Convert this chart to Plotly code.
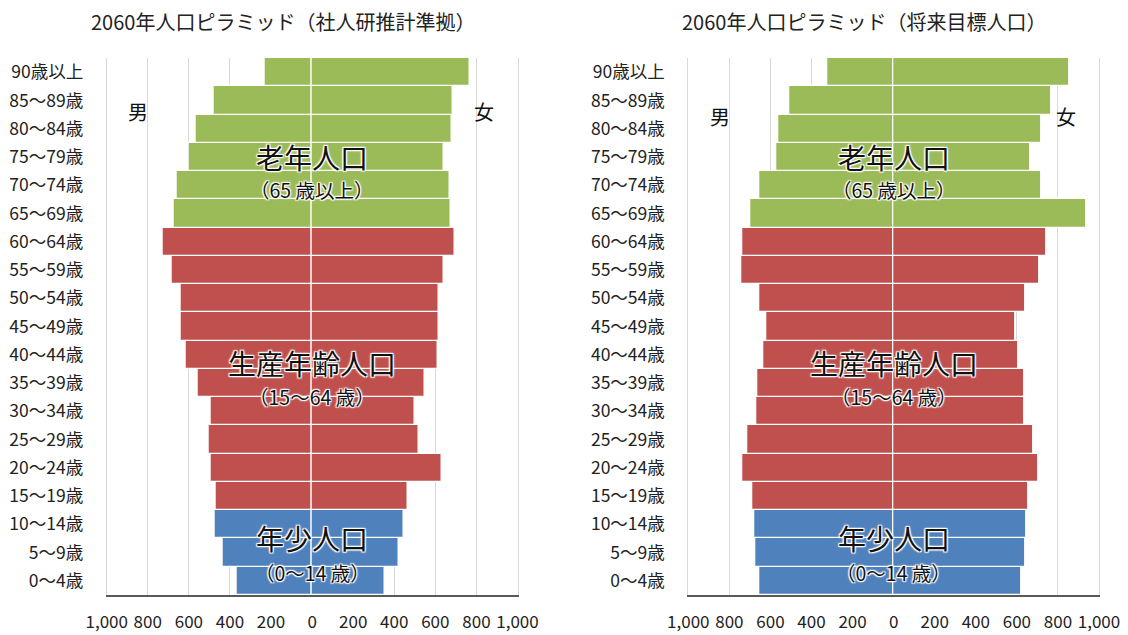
import plotly.graph_objects as go
from plotly.subplots import make_subplots

# age groups, bottom to top
ages = ['0～4歳', '5～9歳', '10～14歳', '15～19歳', '20～24歳', '25～29歳', '30～34歳',
        '35～39歳', '40～44歳', '45～49歳', '50～54歳', '55～59歳', '60～64歳', '65～69歳',
        '70～74歳', '75～79歳', '80～84歳', '85～89歳', '90歳以上']

# 社人研推計準拠 (left)
male_est = [367, 433, 475, 468, 494, 504, 494, 555, 614, 640, 642, 682, 727, 675, 661, 603, 565, 478, 233]
female_est = [351, 421, 447, 466, 630, 517, 499, 546, 612, 614, 617, 643, 694, 677, 671, 643, 682, 685, 765]

# 将来目標人口 (right)
male_goal = [656, 675, 677, 688, 739, 711, 667, 663, 633, 619, 654, 744, 735, 700, 653, 573, 561, 508, 323]
female_goal = [623, 642, 646, 656, 705, 679, 638, 638, 608, 593, 640, 707, 744, 938, 721, 663, 718, 767, 857]

titles = ['2060年人口ピラミッド（社人研推計準拠）', '2060年人口ピラミッド（将来目標人口）']

tick_vals = [-1000, -800, -600, -400, -200, 0, 200, 400, 600, 800, 1000]
tick_text = ['1,000', '800', '600', '400', '200', '0', '200', '400', '600', '800', '1,000']

GREEN = '#9BBB59'
RED = '#C0504D'
BLUE = '#4F81BD'
colors = [BLUE] * 3 + [RED] * 10 + [GREEN] * 6

FONT = 'Noto Sans CJK JP'

# page has an 8px body margin, so the figure is a bit smaller and positions are shifted
OFF = 8
W, H = 1128 - OFF, 635 - OFF


def px(x):
    return (x - OFF) / W


def py(y):
    return 1 - (y - OFF) / H


fig = make_subplots(rows=1, cols=2)

for col, (m, f) in enumerate([(male_est, female_est), (male_goal, female_goal)], start=1):
    fig.add_trace(go.Bar(y=ages, x=[-v for v in m], orientation='h', name='男',
                         marker=dict(color=colors, line=dict(color='white', width=1.2)),
                         customdata=m, hovertemplate='%{y}: %{customdata}<extra>男</extra>'),
                  row=1, col=col)
    fig.add_trace(go.Bar(y=ages, x=f, orientation='h', name='女',
                         marker=dict(color=colors, line=dict(color='white', width=1.2)),
                         hovertemplate='%{y}: %{x}<extra>女</extra>'),
                  row=1, col=col)

x_domains = [[px(106.7), px(517.5)], [px(688.3), px(1099)]]
y_domain = [py(595), py(58)]

for i in (1, 2):
    fig.update_xaxes(range=[-1000, 1000], tickvals=tick_vals, ticktext=tick_text,
                     showgrid=True, gridcolor='#D9D9D9', gridwidth=1, zeroline=False,
                     showline=True, linecolor='#595959', linewidth=2,
                     ticklabelstandoff=11, tickfont=dict(family=FONT, size=17, color='#222'),
                     domain=x_domains[i - 1], automargin=False, fixedrange=True,
                     row=1, col=i)
    fig.update_yaxes(categoryorder='array', categoryarray=ages,
                     showgrid=False, showline=True, linecolor='#D9D9D9', linewidth=1, mirror=True,
                     ticklabelstandoff=19, tickfont=dict(family=FONT, size=17.5, color='#222'),
                     domain=y_domain, automargin=False, fixedrange=True,
                     row=1, col=i)

shadow = ('white 1px 1px 1px, white -1px -1px 1px, white 1px -1px 1px, white -1px 1px 1px, '
          'white 0px 0px 3px')

# titles
for x, t in zip([283, 864], titles):
    fig.add_annotation(x=px(x), y=py(22), xref='paper', yref='paper', text=t,
                       xanchor='center', yanchor='middle', showarrow=False,
                       font=dict(family=FONT, size=20, color='#222'))

# 男 / 女 labels
for x, y, t in [(138, 111, '男'), (484, 111, '女'), (720, 116, '男'), (1066, 116, '女')]:
    fig.add_annotation(x=px(x), y=py(y), xref='paper', yref='paper', text=t,
                       xanchor='center', yanchor='middle', showarrow=False,
                       font=dict(family=FONT, size=20, color='#111'))

# group labels
groups = [(157, '老年人口', 28), (189, '（65 歳以上）', 19.5),
          (363, '生産年齢人口', 28), (396, '（15～64 歳）', 19.5),
          (538, '年少人口', 28), (572, '（0～14 歳）', 19.5)]
for xr in ('x', 'x2'):
    for y, t, s in groups:
        fig.add_annotation(x=0, y=py(y), xref=xr, yref='paper', text=t, showarrow=False,
                           xanchor='center', yanchor='middle',
                           font=dict(family=FONT, size=s, color='#111', shadow=shadow))

fig.update_layout(width=W, height=H, barmode='overlay', bargap=0, showlegend=False,
                  margin=dict(l=0, r=0, t=0, b=0),
                  plot_bgcolor='white', paper_bgcolor='white',
                  font=dict(family=FONT))

fig.write_html("out.html")
